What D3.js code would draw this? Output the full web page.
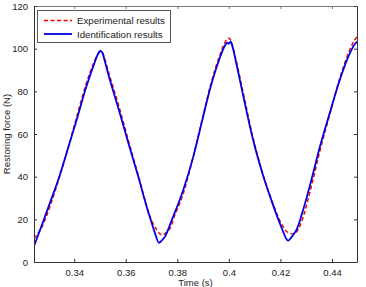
<!DOCTYPE html>
<html>
<head>
<meta charset="utf-8">
<script src="https://cdn.jsdelivr.net/npm/d3@7"></script>
<style>
  html, body { margin: 0; padding: 0; background: #fff; }
  svg { display: block; font-family: "Liberation Sans", Arial, sans-serif; }
</style>
</head>
<body>
<svg id="chart" width="366" height="287"></svg>
<script>
// ---- data ----
const time = [0.3244, 0.3277, 0.3310, 0.3342, 0.3374, 0.3413, 0.3445, 0.3478, 0.3490, 0.3501,
  0.3510, 0.35165, 0.3532, 0.3571, 0.3610, 0.3649, 0.3687, 0.3700, 0.3713, 0.3729,
  0.3739, 0.3752, 0.3778, 0.3784, 0.3823, 0.3862, 0.3897, 0.3929, 0.3962, 0.3985,
  0.3994, 0.3999, 0.4007, 0.4015, 0.4026, 0.4059, 0.4091, 0.4130, 0.4169, 0.4208,
  0.4222, 0.4230, 0.4240, 0.4254, 0.4262, 0.4288, 0.4320, 0.4353, 0.4391, 0.4430,
  0.4469, 0.4485, 0.4497];
const experimental = [11, 17, 27.5, 39.5, 52.5, 69.5, 83, 94, 97, 98.5,
  98, 96, 89.5, 74, 57, 40.5, 24, 19.5, 16.5, 13.6,
  12.7, 13.3, 17.5, 19.8, 32, 49.5, 67, 83, 96, 103,
  104.5, 104.9, 104, 101, 95.5, 77.5, 59.5, 42, 28, 17,
  14.5, 13.8, 13.3, 13.1, 14, 21, 35.5, 52, 69, 86,
  99.5, 103.5, 105.6];
const identification = [7.5, 18.1, 29.1, 40, 52.5, 68.1, 81.4, 93.1, 97, 98.9,
  98, 95.2, 88.1, 72.2, 55.8, 39.8, 23.4, 18.5, 13.6, 9,
  10, 11.9, 19.5, 21.3, 33.75, 49.4, 66.6, 82, 94.7, 101.5,
  102.8, 102.3, 103.3, 100.5, 94.7, 76, 58.7, 41.6, 27.5, 15,
  11, 10, 11.2, 13.5, 15, 24.4, 38.4, 54, 69.7, 85.3,
  97.8, 101.5, 103.3];
const xTicks = [0.34, 0.36, 0.38, 0.40, 0.42, 0.44];
const xTickLabels = ["0.34", "0.36", "0.38", "0.4", "0.42", "0.44"];
const yTicks = [0, 20, 40, 60, 80, 100, 120];
const seriesNames = ["Experimental results", "Identification results"];
const xLabel = "Time (s)";
const yLabel = "Restoring force (N)";

// ---- layout ----
const svg = d3.select("#chart");
const L = 34, R = 357, T = 6, B = 262;
const x = d3.scaleLinear().domain([0.3244, 0.4497]).range([L, R]);
const y = d3.scaleLinear().domain([0, 120]).range([B, T]);
const axisColor = "#333";
const fs = 9.5;

const g = svg.append("g");

// series
const expData = time.map((t, i) => ({t, v: experimental[i]}));
const idData = time.map((t, i) => ({t, v: identification[i]}));
const line = d3.line().x(d => x(d.t)).y(d => y(d.v)).curve(d3.curveMonotoneX);

g.append("defs").append("clipPath").attr("id", "clip")
  .append("rect").attr("x", L).attr("y", T).attr("width", R - L).attr("height", B - T);

const plot = g.append("g").attr("clip-path", "url(#clip)");
plot.append("path").datum(expData).attr("d", line)
  .attr("fill", "none").attr("stroke", "#ff0000").attr("stroke-width", 1.5)
  .attr("stroke-dasharray", "4,2.5");
plot.append("path").datum(idData).attr("d", line)
  .attr("fill", "none").attr("stroke", "#0000e6").attr("stroke-width", 1.8);

// axes (inward ticks, box)
const xAxisB = d3.axisBottom(x).tickValues(xTicks).tickFormat((d, i) => xTickLabels[i]).tickSizeInner(-3).tickSizeOuter(0).tickPadding(7);
const xAxisT = d3.axisTop(x).tickValues(xTicks).tickFormat("").tickSizeInner(-3).tickSizeOuter(0);
const yAxisL = d3.axisLeft(y).tickValues(yTicks).tickFormat(d3.format("d")).tickSizeInner(-3).tickSizeOuter(0).tickPadding(6);
const yAxisR = d3.axisRight(y).tickValues(yTicks).tickFormat("").tickSizeInner(-3).tickSizeOuter(0);

function style(sel, col) {
  sel.select(".domain").attr("stroke", col);
  sel.selectAll(".tick line").attr("stroke", col);
  sel.selectAll("text").attr("fill", "#222").attr("font-size", fs).attr("font-family", "Liberation Sans, Arial, sans-serif");
}
style(g.append("g").attr("transform", `translate(0,${B})`).call(xAxisB), axisColor);
style(g.append("g").attr("transform", `translate(0,${T})`).call(xAxisT), "#777");
style(g.append("g").attr("transform", `translate(${L},0)`).call(yAxisL), axisColor);
style(g.append("g").attr("transform", `translate(${R},0)`).call(yAxisR), axisColor);

// axis labels
g.append("text").attr("x", (L + R) / 2).attr("y", 286).attr("text-anchor", "middle")
  .attr("font-size", fs).attr("fill", "#222").text(xLabel);
g.append("text").attr("transform", `translate(9.5,${(T + B) / 2}) rotate(-90)`)
  .attr("text-anchor", "middle").attr("font-size", fs).attr("fill", "#222").text(yLabel);

// legend
const lg = g.append("g");
lg.append("rect").attr("x", 37.5).attr("y", 10.5).attr("width", 133).attr("height", 32)
  .attr("fill", "#fff").attr("stroke", "#555").attr("stroke-width", 1);
const legendStyles = [
  {stroke: "#ff0000", w: 1.5, dash: "4,2.5"},
  {stroke: "#0000e6", w: 1.8, dash: null}
];
seriesNames.forEach((name, i) => {
  const yy = 20.5 + i * 13.5;
  const l = lg.append("line").attr("x1", 44).attr("x2", 72).attr("y1", yy).attr("y2", yy)
    .attr("stroke", legendStyles[i].stroke).attr("stroke-width", legendStyles[i].w);
  if (legendStyles[i].dash) l.attr("stroke-dasharray", legendStyles[i].dash);
  lg.append("text").attr("x", 77).attr("y", yy + 3.5).attr("font-size", 9.7)
    .attr("fill", "#222").text(name);
});
</script>
</body>
</html>
